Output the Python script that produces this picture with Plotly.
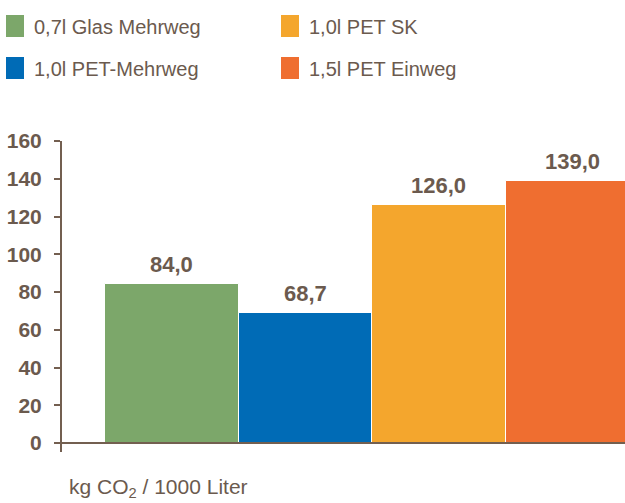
import plotly.graph_objects as go

categories = ["0,7l Glas Mehrweg", "1,0l PET-Mehrweg", "1,0l PET SK", "1,5l PET Einweg"]
values = [84.0, 68.7, 126.0, 139.0]
labels = ["84,0", "68,7", "126,0", "139,0"]
colors = ["#7ca76a", "#006bb6", "#f4a62d", "#ef6e30"]
tick_vals = [0, 20, 40, 60, 80, 100, 120, 140, 160]
legend_order = [0, 2, 1, 3]  # row-major: row1 = Glas, PET SK ; row2 = PET-Mehrweg, PET Einweg

TXT = "#6b5a4e"
AX = "#735f50"
FONT = "Liberation Sans, Arial, sans-serif"

W, H = 625, 503
ML, MR, MT, MB = 62, 0, 141, 51
PW, PH = W - ML - MR, H - MT - MB

def px_x(p):
    return (p - ML) / PW

def px_y(p):
    return (H - MB - p) / PH

xs = list(range(len(categories)))

fig = go.Figure()
fig.add_trace(go.Bar(
    x=xs, y=values, width=1,
    marker=dict(color=colors, line=dict(color="white", width=1)),
    showlegend=False, hoverinfo="skip",
))

annotations = []
for i, (v, t) in enumerate(zip(values, labels)):
    annotations.append(dict(x=xs[i], y=v, xref="x", yref="y", text=f"<b>{t}</b>",
                            showarrow=False, yanchor="bottom", yshift=5,
                            font=dict(size=22, color=TXT, family=FONT)))

# manual legend (2 columns)
shapes = []
col_sw = [6, 281]
col_tx = [32, 307]
row_sw = [(15, 37), (57, 79)]
row_c = [27, 69]
for k, idx in enumerate(legend_order):
    r, c = divmod(k, 2)
    shapes.append(dict(type="rect", xref="paper", yref="paper",
                       x0=px_x(col_sw[c]), x1=px_x(col_sw[c] + 18),
                       y0=px_y(row_sw[r][1]), y1=px_y(row_sw[r][0]),
                       fillcolor=colors[idx], line=dict(width=0)))
    annotations.append(dict(x=px_x(col_tx[c]), y=px_y(row_c[r]), xref="paper", yref="paper",
                            text=categories[idx], showarrow=False, xanchor="left", yanchor="middle",
                            font=dict(size=20, color=TXT, family=FONT)))

# x-axis baseline at 0
shapes.append(dict(type="line", xref="paper", yref="y", x0=0, x1=1, y0=0, y1=0,
                   line=dict(color=AX, width=2), layer="above"))

annotations.append(dict(x=px_x(67), y=px_y(488), xref="paper", yref="paper",
                        text="kg CO<sub>2</sub> / 1000 Liter", showarrow=False,
                        xanchor="left", yanchor="middle",
                        font=dict(size=21, color=TXT, family=FONT)))

fig.update_layout(
    width=W, height=H,
    margin=dict(l=ML, r=MR, t=MT, b=MB),
    paper_bgcolor="white", plot_bgcolor="white",
    bargap=0,
    showlegend=False,
    annotations=annotations,
    shapes=shapes,
    xaxis=dict(range=[-0.822, 3.395], showticklabels=False, showgrid=False,
               zeroline=False, showline=False, ticks=""),
    yaxis=dict(range=[-4.77, 160], tickvals=tick_vals, showgrid=False, zeroline=False,
               showline=True, linecolor=AX, linewidth=2,
               ticks="outside", ticklen=6, tickwidth=2, tickcolor=AX,
               ticklabelstandoff=8,
               tickfont=dict(size=21, color=TXT, family=FONT, weight="bold")),
)

fig.write_html("out.html")
